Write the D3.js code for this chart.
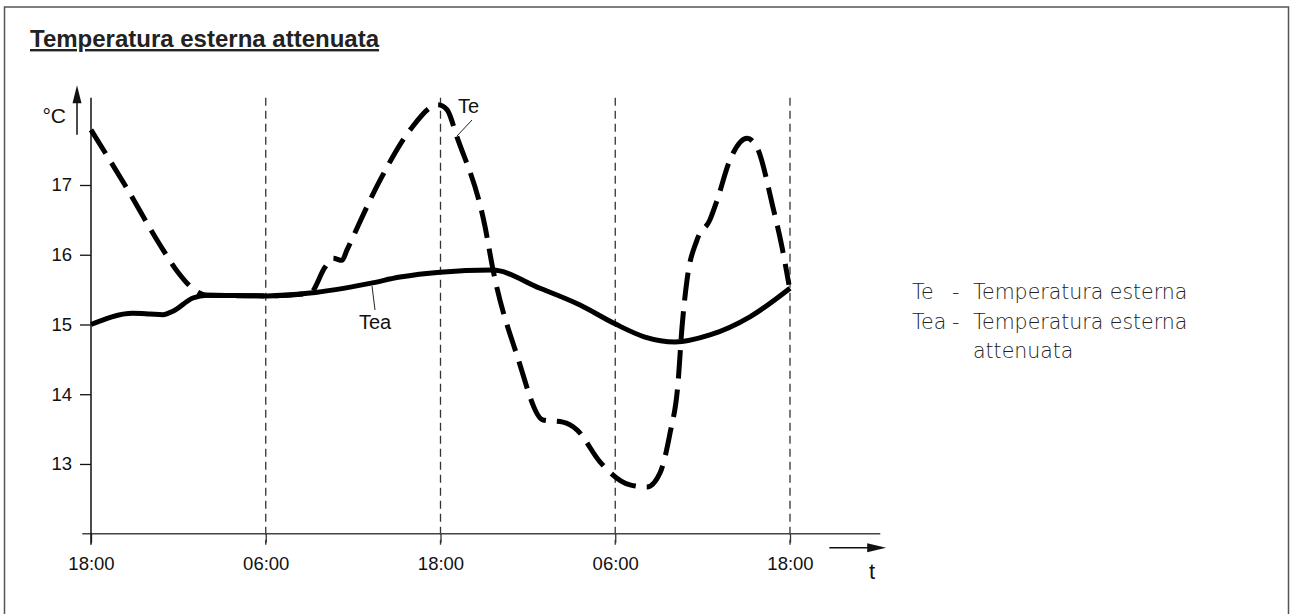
<!DOCTYPE html>
<html>
<head>
<meta charset="utf-8">
<script src="https://cdn.jsdelivr.net/npm/d3@7"></script>
<style>
body { margin:0; background:#fff; }
</style>
</head>
<body>
<div id="divcont"></div>
<script>

// hours after the first 18:00
var teHours = [0, 2.33, 4.74, 5.97, 7.14, 7.97, 12.09, 15.04, 16.07, 16.62, 17.24, 17.58, 19.85, 21.91, 23.83, 24.45, 25.13, 27.06, 27.61, 29.25, 31.04, 32.41, 33.37, 34.95, 37.01, 38.18, 39.07, 39.76, 40.31, 40.58, 40.93, 41.61, 42.5, 42.99, 43.88, 45.05, 45.73, 46.83, 47.45, 47.93]
var teValues = [17.79, 17.0, 16.14, 15.75, 15.49, 15.42, 15.41, 15.45, 15.82, 15.95, 15.92, 16.07, 17.07, 17.79, 18.15, 18.08, 17.69, 16.4, 15.78, 14.56, 13.63, 13.6, 13.49, 13.03, 12.7, 12.67, 12.87, 13.44, 14.16, 14.95, 15.64, 16.21, 16.5, 16.78, 17.36, 17.67, 17.54, 16.68, 16.11, 15.57]

var teaHours = [0, 2.88, 4.05, 4.94, 5.63, 7.0, 7.97, 12.09, 15.04, 19.16, 21.22, 23.97, 27.54, 30.83, 33.58, 35.98, 38.04, 40.1, 42.5, 45.25, 48]
var teaValues = [15.0, 15.16, 15.15, 15.14, 15.19, 15.38, 15.42, 15.41, 15.45, 15.59, 15.68, 15.75, 15.78, 15.52, 15.28, 15.01, 14.82, 14.75, 14.85, 15.11, 15.52]

var xTickHours = [0, 12, 24, 36, 48]
var xTickLabels = ["18:00", "06:00", "18:00", "06:00", "18:00"]
var yTicks = [13, 14, 15, 16, 17]

var legendKeys = ["Te", "Tea", ""]
var legendTexts = ["Temperatura esterna", "Temperatura esterna", "attenuata"]

var wd = 1290
var ht = 614
var fnt = "'Liberation Sans', Arial, Helvetica, sans-serif"

var svg = d3.select("#divcont")
  .append("svg")
  .attr("width", wd)
  .attr("height", ht)
  .style("display", "block")

// outer frame
svg.append("rect")
  .attr("x", 4.5).attr("y", 7)
  .attr("width", 1284).attr("height", 640)
  .attr("fill", "none")
  .attr("stroke", "#555")
  .attr("stroke-width", 1.5)

svg.append("text")
  .attr("x", 30).attr("y", 47)
  .text("Temperatura esterna attenuata")
  .style("font-family", fnt)
  .style("font-weight", "bold")
  .style("font-size", "24px")
  .style("text-decoration", "underline")
  .attr("fill", "#222")

var x = d3.scaleLinear().domain([0, 48]).range([91, 790])
var y = d3.scaleLinear().domain([12, 17]).range([533.7, 185])

// vertical guides
svg.selectAll("vguide")
  .data(xTickHours.slice(1))
  .enter()
  .append("line")
  .attr("x1", d => x(d)).attr("x2", d => x(d))
  .attr("y1", y(18.25)).attr("y2", y(11.84))
  .attr("stroke", "#333")
  .attr("stroke-width", 1.3)
  .attr("stroke-dasharray", "8,5")

// x axis
var xAxis = d3.axisBottom(x)
  .tickValues(xTickHours)
  .tickFormat((d, i) => xTickLabels[i])
  .tickSize(9)
  .tickPadding(14)

var xg = svg.append("g")
  .attr("transform", "translate(0," + y(12) + ")")
  .call(xAxis)
xg.select(".domain").remove()
xg.selectAll(".tick line").attr("stroke", "#333").attr("stroke-width", 1.3)
xg.selectAll(".tick text").style("font-family", fnt).style("font-size", "18.5px").attr("fill", "#111")
xg.append("line")
  .attr("x1", x(-0.6)).attr("x2", x(54.2))
  .attr("y1", 0).attr("y2", 0)
  .attr("stroke", "#444").attr("stroke-width", 1.5)

// y axis
var yAxis = d3.axisLeft(y)
  .tickValues(yTicks)
  .tickFormat(d3.format("d"))
  .tickSize(11)
  .tickPadding(8)

var yg = svg.append("g")
  .attr("transform", "translate(" + x(0) + ",0)")
  .call(yAxis)
yg.select(".domain").remove()
yg.selectAll(".tick line").attr("stroke", "#111").attr("stroke-width", 1.3)
yg.selectAll(".tick text").style("font-family", fnt).style("font-size", "18.5px").attr("fill", "#111")
yg.append("line")
  .attr("x1", 0).attr("x2", 0)
  .attr("y1", y(18.25)).attr("y2", y(11.84))
  .attr("stroke", "#111").attr("stroke-width", 1.5)

// axis arrows
var ax = x(0) - 14
svg.append("line")
  .attr("x1", ax).attr("x2", ax)
  .attr("y1", y(17.72)).attr("y2", y(18.2))
  .attr("stroke", "#111").attr("stroke-width", 1.5)
svg.append("path")
  .attr("d", "M" + ax + "," + (y(18.4) - 2) + "L" + (ax - 4.5) + "," + (y(18.2) + 2) + "L" + (ax + 4.5) + "," + (y(18.2) + 2) + "Z")
  .attr("fill", "#111")

var ay = y(12) + 14
svg.append("line")
  .attr("x1", x(50.7)).attr("x2", x(53.5))
  .attr("y1", ay).attr("y2", ay)
  .attr("stroke", "#111").attr("stroke-width", 1.5)
svg.append("path")
  .attr("d", "M" + x(54.6) + "," + ay + "L" + x(53.3) + "," + (ay - 4.5) + "L" + x(53.3) + "," + (ay + 4.5) + "Z")
  .attr("fill", "#111")

svg.append("text")
  .attr("x", 66).attr("y", 123)
  .attr("text-anchor", "end")
  .text("°C")
  .style("font-family", fnt).style("font-size", "21px").attr("fill", "#111")

svg.append("text")
  .attr("x", 872).attr("y", 579)
  .attr("text-anchor", "middle")
  .text("t")
  .style("font-family", fnt).style("font-size", "22px").attr("fill", "#111")

// curves
var teData = teHours.map((h, i) => ({h: h, v: teValues[i]}))
var teaData = teaHours.map((h, i) => ({h: h, v: teaValues[i]}))

var teLine = d3.line()
  .x(d => x(d.h)).y(d => y(d.v))
  .curve(d3.curveMonotoneX)

var teaLine = d3.line()
  .x(d => x(d.h)).y(d => y(d.v))
  .curve(d3.curveMonotoneX)

svg.append("path")
  .datum(teData)
  .attr("d", teLine)
  .attr("fill", "none")
  .attr("stroke", "#000")
  .attr("stroke-width", 5)
  .attr("stroke-dasharray", "28,11")

svg.append("path")
  .datum(teaData)
  .attr("d", teaLine)
  .attr("fill", "none")
  .attr("stroke", "#000")
  .attr("stroke-width", 5)

// curve labels
svg.append("text").attr("x", 458).attr("y", 113).text("Te")
  .style("font-family", fnt).style("font-size", "20px").attr("fill", "#111")
svg.append("line").attr("x1", 472).attr("y1", 120).attr("x2", 457).attr("y2", 136)
  .attr("stroke", "#222").attr("stroke-width", 1)

svg.append("text").attr("x", 359).attr("y", 329).text("Tea")
  .style("font-family", fnt).style("font-size", "20px").attr("fill", "#111")
svg.append("line").attr("x1", 372).attr("y1", 286).attr("x2", 375).attr("y2", 310)
  .attr("stroke", "#222").attr("stroke-width", 1)

// legend
var lg = svg.selectAll("legRow")
  .data(legendTexts)
  .enter()
  .append("g")
  .attr("transform", (d, i) => "translate(0," + (299 + i * 29.5) + ")")

lg.append("text").attr("x", 912).text((d, i) => legendKeys[i])
lg.append("text").attr("x", 952).text((d, i) => legendKeys[i] ? "-" : "")
lg.append("text").attr("x", 973).text(d => d)
lg.selectAll("text")
  .style("font-family", "'DejaVu Sans', sans-serif")
  .style("font-weight", "200")
  .style("font-size", "20.5px")
  .attr("fill", "#222")

</script>
</body>
</html>
